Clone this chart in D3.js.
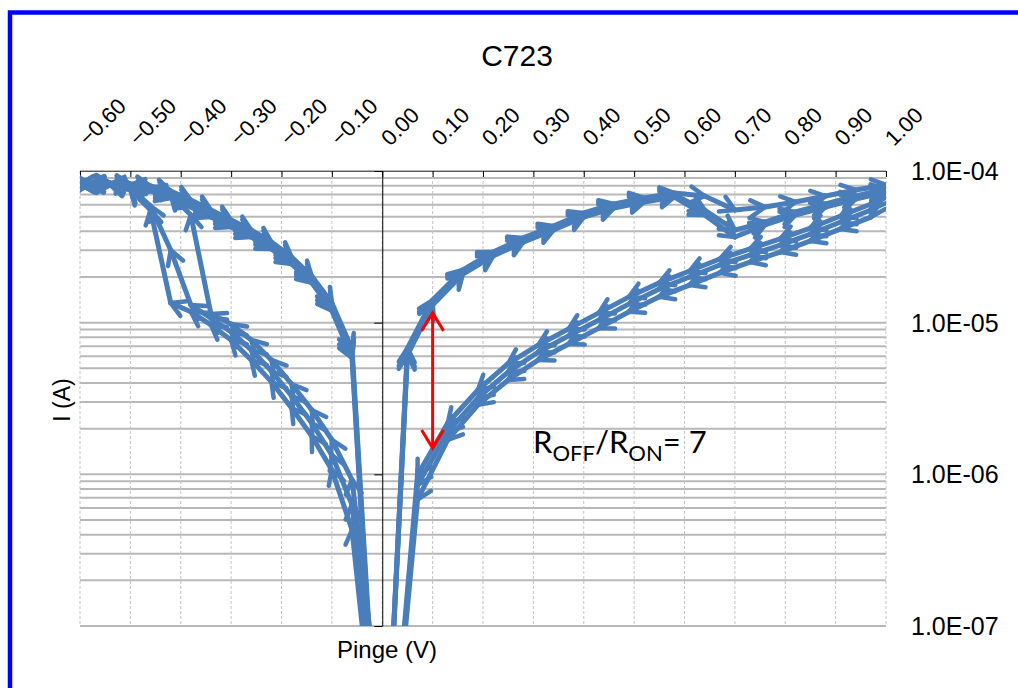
<!DOCTYPE html>
<html><head><meta charset="utf-8">
<script src="https://cdn.jsdelivr.net/npm/d3@7"></script>
<style>body{margin:0;background:#fff} svg{display:block}</style>
</head><body>
<svg id="c" width="1018" height="688"></svg>
<script>
// ---------- DATA ----------
const xTicks = [-0.6,-0.5,-0.4,-0.3,-0.2,-0.1,0.0,0.1,0.2,0.3,0.4,0.5,0.6,0.7,0.8,0.9,1.0];
const yTicks = [1e-4,1e-5,1e-6,1e-7];
const yTickLabels = ["1.0E-04","1.0E-05","1.0E-06","1.0E-07"];

// positive sweep, forward (0 -> 1 V)
const posFwdV  = [0.00,0.05,0.10,0.16,0.22,0.28,0.34,0.40,0.46,0.52,0.58,0.64,0.70,0.76,0.82,0.88,0.94,1.00];
const posFwdI1 = [3e-9,6.8e-6,1.41e-5,2.23e-5,2.92e-5,3.62e-5,4.34e-5,5.29e-5,6.06e-5,6.64e-5,7.16e-5,6.84e-5,5.53e-5,5.79e-5,6.25e-5,6.84e-5,7.5e-5,8.1e-5];
const posFwdI2 = [3e-9,6.4e-6,1.35e-5,2.16e-5,2.84e-5,3.51e-5,4.21e-5,5.13e-5,5.88e-5,6.44e-5,6.95e-5,5.53e-5,4.08e-5,4.61e-5,5.37e-5,6.06e-5,6.84e-5,7.61e-5];
const posFwdI3 = [3e-9,6.1e-6,1.31e-5,2.09e-5,2.75e-5,3.4e-5,4.08e-5,4.97e-5,5.7e-5,6.25e-5,6.74e-5,5.13e-5,3.67e-5,4.41e-5,5.13e-5,5.79e-5,6.54e-5,7.27e-5];

// positive sweep, return (1 V -> 0)
const posRevV  = [0.97,0.91,0.85,0.79,0.73,0.67,0.61,0.55,0.49,0.43,0.37,0.31,0.25,0.19,0.13,0.07,0.01];
const posRevI1 = [6.06e-5,5.05e-5,4.21e-5,3.57e-5,3.06e-5,2.63e-5,2.19e-5,1.83e-5,1.48e-5,1.16e-5,9.1e-6,7.13e-6,5.38e-6,3.6e-6,2.18e-6,9.9e-7,5e-9];
const posRevI2 = [5.53e-5,4.61e-5,3.84e-5,3.25e-5,2.79e-5,2.4e-5,2.0e-5,1.67e-5,1.33e-5,1.04e-5,8.18e-6,6.41e-6,4.73e-6,3.19e-6,1.9e-6,8.5e-7,5e-9];
const posRevI3 = [4.97e-5,4.15e-5,3.46e-5,2.92e-5,2.51e-5,2.13e-5,1.77e-5,1.48e-5,1.18e-5,9.2e-6,7.24e-6,5.68e-6,4.19e-6,2.87e-6,1.69e-6,6.8e-7,5e-9];

// negative sweep, forward (0 -> -0.6 V)
const negFwdV  = [-0.02,-0.06,-0.10,-0.14,-0.18,-0.22,-0.26,-0.30,-0.34,-0.38,-0.42,-0.46,-0.50,-0.54,-0.58,-0.60];
const negFwdI1 = [7e-8,9.2e-7,1.69e-6,2.66e-6,3.94e-6,5.68e-6,7.69e-6,9.8e-6,1.14e-5,5.13e-5,6.95e-5,7.72e-5,8.09e-5,8.21e-5,8.21e-5,8.21e-5];
const negFwdI2 = [3.8e-8,6.3e-7,1.34e-6,2.18e-6,3.29e-6,4.8e-6,6.61e-6,8.7e-6,1.07e-5,1.31e-5,3.01e-5,5.88e-5,7.72e-5,8.09e-5,8.21e-5,8.21e-5];
const negFwdI3 = [2.4e-8,4.3e-7,1.07e-6,1.79e-6,2.74e-6,4.07e-6,5.68e-6,7.69e-6,9.66e-6,1.18e-5,1.35e-5,5.53e-5,7.5e-5,8.09e-5,8.21e-5,8.21e-5];

// negative sweep, return (-0.6 V -> 0)
const negRevV  = [-0.58,-0.54,-0.50,-0.46,-0.42,-0.38,-0.34,-0.30,-0.26,-0.22,-0.18,-0.14,-0.10,-0.06,-0.02];
const negRevI1 = [8.33e-5,8.33e-5,8.21e-5,7.96e-5,7.38e-5,6.44e-5,5.53e-5,4.75e-5,4.08e-5,3.4e-5,2.71e-5,2.03e-5,1.35e-5,6.7e-6,4.4e-8];
const negRevI2 = [8.21e-5,8.21e-5,8.09e-5,7.72e-5,7.05e-5,6.15e-5,5.29e-5,4.54e-5,3.9e-5,3.25e-5,2.59e-5,1.94e-5,1.27e-5,6.2e-6,3.8e-8];
const negRevI3 = [8.09e-5,8.09e-5,7.84e-5,7.38e-5,6.64e-5,5.79e-5,4.97e-5,4.28e-5,3.67e-5,3.06e-5,2.44e-5,1.83e-5,1.2e-5,5.85e-6,3.3e-8];

// annotation
const ratioV = 0.10;
const ratioI = [1.16e-5, 1.49e-6];
const ratioLabel = {main:"R", sub1:"OFF", mid:"/R", sub2:"ON", tail:"= 7"};

// ---------- CHART ----------
const W = 1018, H = 688;
const svg = d3.select("#c");
const x = d3.scaleLinear().domain([-0.6, 1.0]).range([80, 886]);
const y = d3.scaleLog().domain([1e-7, 1e-4]).range([626, 171]);
const FONT = "'Liberation Sans', Arial, sans-serif";
const BLUE = "#4a7ebb";

svg.append("rect").attr("width", W).attr("height", H).attr("fill", "#fff");

const defs = svg.append("defs");
defs.append("clipPath").attr("id", "plot").append("rect")
  .attr("x", x(-0.6)).attr("y", y(1e-4)).attr("width", x(1.0) - x(-0.6)).attr("height", y(1e-7) - y(1e-4));
defs.append("marker").attr("id", "arr").attr("markerUnits", "userSpaceOnUse")
  .attr("viewBox", "-22 -14 26 28").attr("markerWidth", 26).attr("markerHeight", 28)
  .attr("refX", 0).attr("refY", 0).attr("orient", "auto").style("overflow", "visible")
  .append("path").attr("d", "M-14,-8 L0,0 L-14,8").attr("fill", "none")
  .attr("stroke", BLUE).attr("stroke-width", 4.5).attr("stroke-linejoin", "round").attr("stroke-linecap", "round");
defs.append("marker").attr("id", "redArr").attr("markerUnits", "userSpaceOnUse")
  .attr("viewBox", "-24 -14 28 28").attr("markerWidth", 28).attr("markerHeight", 28)
  .attr("refX", 0).attr("refY", 0).attr("orient", "auto-start-reverse").style("overflow", "visible")
  .append("path").attr("d", "M-18,-11 L0,0 L-18,11").attr("fill", "none")
  .attr("stroke", "#ff0000").attr("stroke-width", 3);

// blue outer frame
svg.append("rect").attr("x", 10).attr("y", 12.5).attr("width", 1040).attr("height", 720)
  .attr("fill", "none").attr("stroke", "#0000ff").attr("stroke-width", 4.5);

// horizontal log grid
svg.append("g").selectAll("line").data(y.ticks()).join("line")
  .attr("x1", x(-0.6)).attr("x2", x(1.0))
  .attr("y1", d => y(d)).attr("y2", d => y(d))
  .attr("stroke", "#b8b8b8").attr("stroke-width", 2);

// vertical dashed grid
svg.append("g").selectAll("line").data(xTicks).join("line")
  .attr("x1", d => x(d)).attr("x2", d => x(d))
  .attr("y1", y(1e-4)).attr("y2", y(1e-7))
  .attr("stroke", "#c4c4c4").attr("stroke-width", 1).attr("stroke-dasharray", "3,2");

// top axis
const topAxis = svg.append("g").attr("transform", `translate(0,${y(1e-4)})`)
  .call(d3.axisTop(x).tickValues(xTicks).tickSize(-6).tickSizeOuter(0).tickFormat(""));
topAxis.select(".domain").attr("stroke", "#5a5a5a");
topAxis.selectAll(".tick line").attr("stroke", "#000");

svg.append("g").selectAll("text").data(xTicks).join("text")
  .attr("transform", d => `translate(${x(d) + 8},147) rotate(-45)`)
  .attr("font-family", FONT).attr("font-size", 22).attr("fill", "#000")
  .text(d => d3.format(".2f")(d));

// y axis at V = 0
const yax = svg.append("g").attr("transform", `translate(${x(0)},0)`)
  .call(d3.axisLeft(y).tickValues(yTicks).tickSize(8).tickSizeOuter(0).tickFormat(""));
yax.selectAll("line,path").attr("stroke", "#000");

// right-hand labels
svg.append("g").selectAll("text").data(yTicks).join("text")
  .attr("x", 911).attr("y", d => y(d) + 9)
  .attr("font-family", FONT).attr("font-size", 25).attr("fill", "#000")
  .text((d, i) => yTickLabels[i]);

// titles
svg.append("text").attr("x", 517).attr("y", 66).attr("text-anchor", "middle")
  .attr("font-family", FONT).attr("font-size", 30).text("C723");
svg.append("text").attr("transform", "translate(70,400) rotate(-90)").attr("text-anchor", "middle")
  .attr("font-family", FONT).attr("font-size", 23).text("I (A)");
svg.append("text").attr("x", 387).attr("y", 658).attr("text-anchor", "middle")
  .attr("font-family", FONT).attr("font-size", 24).text("Pinge (V)");

// series
function zip(V, I) { return V.map((v, i) => ({v, i: I[i]})); }
const cycles = [
  [].concat(zip(posFwdV, posFwdI1), zip(posRevV, posRevI1), zip(negFwdV, negFwdI1), zip(negRevV, negRevI1)),
  [].concat(zip(posFwdV, posFwdI2), zip(posRevV, posRevI2), zip(negFwdV, negFwdI2), zip(negRevV, negRevI2)),
  [].concat(zip(posFwdV, posFwdI3), zip(posRevV, posRevI3), zip(negFwdV, negFwdI3), zip(negRevV, negRevI3))
];
const segs = [];
cycles.forEach(c => { for (let k = 1; k < c.length; k++) segs.push([c[k - 1], c[k]]); });
svg.append("g").attr("clip-path", "url(#plot)")
  .selectAll("line").data(segs).join("line")
  .attr("x1", d => x(d[0].v)).attr("y1", d => y(d[0].i))
  .attr("x2", d => x(d[1].v)).attr("y2", d => y(d[1].i))
  .attr("stroke", BLUE).attr("stroke-width", 5).attr("stroke-linecap", "round")
  .attr("marker-end", "url(#arr)");

// ratio annotation
svg.append("line")
  .attr("x1", x(ratioV)).attr("x2", x(ratioV))
  .attr("y1", y(ratioI[0])).attr("y2", y(ratioI[1]))
  .attr("stroke", "#ff0000").attr("stroke-width", 3)
  .attr("marker-start", "url(#redArr)").attr("marker-end", "url(#redArr)");

const t = svg.append("text").attr("x", 533).attr("y", 453)
  .attr("font-family", "Lato, 'Open Sans', sans-serif").attr("fill", "#000");
t.append("tspan").attr("font-size", 31).text(ratioLabel.main);
t.append("tspan").attr("font-size", 22).attr("dy", 8).text(ratioLabel.sub1);
t.append("tspan").attr("font-size", 31).attr("dy", -8).text(ratioLabel.mid);
t.append("tspan").attr("font-size", 22).attr("dy", 8).text(ratioLabel.sub2);
t.append("tspan").attr("font-size", 31).attr("dy", -8).text(ratioLabel.tail);
</script></body></html>
